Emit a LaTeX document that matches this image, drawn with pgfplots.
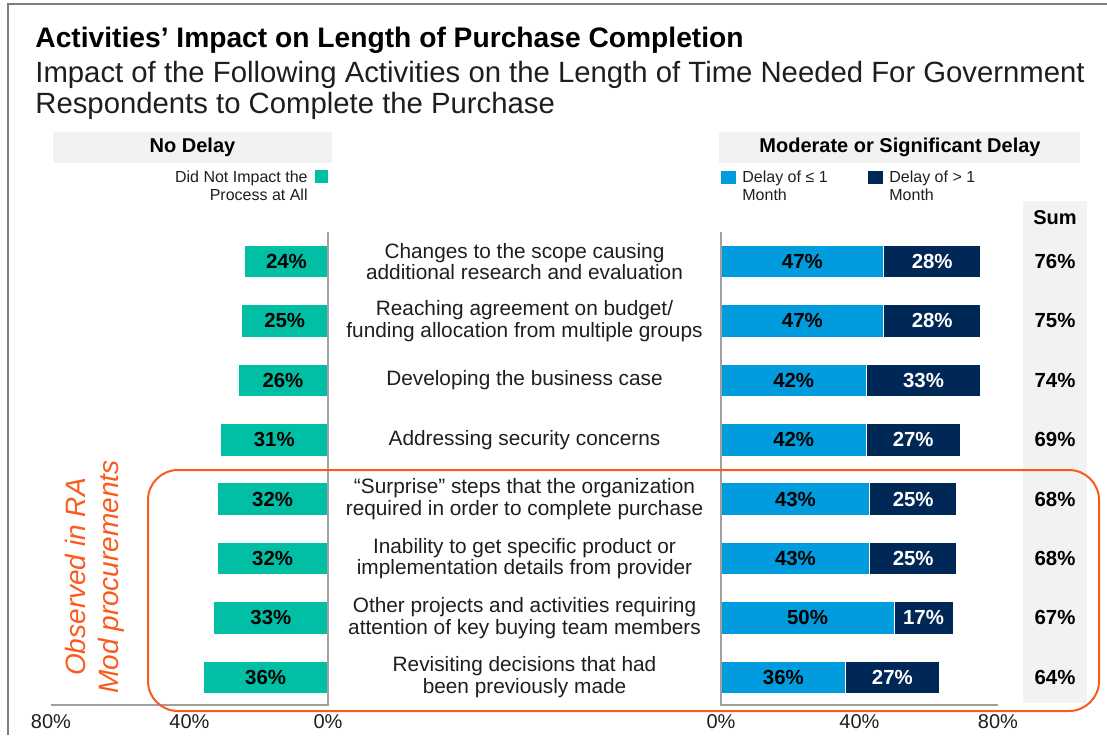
\documentclass[border=0pt]{standalone}
\usepackage{fontspec}
\setmainfont{Liberation Sans}
\usepackage{pgfplots}
\pgfplotsset{compat=1.18}
\usepackage{pgfplotstable}
\definecolor{cteal}{RGB}{0,191,165}
\definecolor{clblue}{RGB}{0,156,222}
\definecolor{cnavy}{RGB}{0,40,86}
\definecolor{cbox}{RGB}{242,242,242}
\definecolor{caxis}{RGB}{160,160,160}
\definecolor{corange}{RGB}{250,90,30}
\definecolor{cframe}{RGB}{120,128,128}
\definecolor{ctext}{RGB}{30,30,30}

\pgfplotstableread{
row nd d1 d2
0 24 47 28
1 25 47 28
2 26 42 33
3 31 42 27
4 32 43 25
5 32 43 25
6 33 50 17
7 36 36 27
}\datatable

\pgfplotsset{
  halfaxis/.style={
    scale only axis, anchor=south west,
    width=138.5pt, height=236.5pt,
    xmin=0, xmax=80, ymin=-0.497, ymax=7.466, y dir=reverse,
    axis line style={draw=none}, ytick=\empty,
    xtick={0,40,80}, major tick length=0pt,
    xticklabel={\pgfmathprintnumber{\tick}\%},
    /pgf/number format/assume math mode=true,
    xticklabel style={font=\fontsize{10}{12}\selectfont, text=ctext, yshift=-1pt},
    clip=false,
  },
  vallab/.style={
    nodes near coords={\pgfmathprintnumber{\pgfplotspointmeta}\%},
    point meta=explicit,
    every node near coord/.append style={anchor=center, font=\bfseries\fontsize{10.2}{12}\selectfont, text=#1, /pgf/number format/assume math mode=true},
  },
}

\begin{document}
\begin{tikzpicture}
\begin{scope}[x=0.5pt,y=-0.5pt]
\path[use as bounding box] (0,0) rectangle (1107,735);
% frame
\draw[cframe, line width=1pt] (8,735) -- (8,4) -- (1107,4);
% titles
\node[anchor=base west, inner sep=0pt, font=\bfseries\fontsize{14.1}{16}\selectfont] at (35,47) {Activities’ Impact on Length of Purchase Completion};
\node[anchor=base west, inner sep=0pt, font=\fontsize{14.65}{16}\selectfont, text=ctext] at (35,82) {Impact of the Following Activities on the Length of Time Needed For Government};
\node[anchor=base west, inner sep=0pt, font=\fontsize{14.65}{16}\selectfont, text=ctext] at (35,113) {Respondents to Complete the Purchase};
% header boxes
\fill[cbox] (53,132) rectangle (332,163);
\fill[cbox] (719,132) rectangle (1080,163);
\node[font=\bfseries\fontsize{10}{12}\selectfont] at (192.5,147.5) {No Delay};
\node[font=\bfseries\fontsize{10}{12}\selectfont] at (900,147.5) {Moderate or Significant Delay};
% legends
\fill[cteal] (315,170) rectangle (328,183);
\node[anchor=base east, inner sep=0pt, font=\fontsize{8}{9}\selectfont, text=ctext] at (308,182) {Did Not Impact the};
\node[anchor=base east, inner sep=0pt, font=\fontsize{8}{9}\selectfont, text=ctext] at (308,200) {Process at All};
\fill[clblue] (721,171) rectangle (736,184);
\node[anchor=base west, inner sep=0pt, font=\fontsize{8}{9}\selectfont, text=ctext] at (742,182) {Delay of ≤ 1};
\node[anchor=base west, inner sep=0pt, font=\fontsize{8}{9}\selectfont, text=ctext] at (742,200) {Month};
\fill[cnavy] (868,171) rectangle (883,184);
\node[anchor=base west, inner sep=0pt, font=\fontsize{8}{9}\selectfont, text=ctext] at (889,182) {Delay of > 1};
\node[anchor=base west, inner sep=0pt, font=\fontsize{8}{9}\selectfont, text=ctext] at (889,200) {Month};
% sum column
\fill[cbox] (1023,201) rectangle (1087,703);
\node[font=\bfseries\fontsize{10}{12}\selectfont] at (1055,218) {Sum};
\foreach \v [count=\i from 0] in {76,75,74,69,68,68,67,64}
  \node[font=\bfseries\fontsize{10.2}{12}\selectfont] at (1055,261.5+59.4*\i) {\v\%};
% category labels
\begin{scope}[every node/.style={align=center, font=\fontsize{10.4}{10.8}\selectfont, text=ctext}]
\node at (524.5,261.5+59.4*0) {Changes to the scope causing\\additional research and evaluation};
\node at (524.5,261.5+59.4*1) {Reaching agreement on budget/\\funding allocation from multiple groups};
\node at (524.5,261.5+59.4*2) {Developing the business case};
\node at (524.5,261.5+59.4*3) {Addressing security concerns};
\node at (524.5,261.5+59.4*4) {“Surprise” steps that the organization\\required in order to complete purchase};
\node at (524.5,261.5+59.4*5) {Inability to get specific product or\\implementation details from provider};
\node at (524.5,261.5+59.4*6) {Other projects and activities requiring\\attention of key buying team members};
\node at (524.5,261.5+59.4*7) {Revisiting decisions that had\\been previously made};
\end{scope}
\end{scope}

% left axis
\begin{axis}[halfaxis, at={(25.5pt,-352.5pt)}, x dir=reverse]
\addplot[xbar, bar width=16.3pt, bar shift=0pt, fill=cteal, draw=white, line width=0.4pt,
  vallab=black, visualization depends on={rawx \as \rawx},
  every node near coord/.append style={xshift=\rawx*0.865625pt}]
  table[x=nd, y=row, meta=nd] {\datatable};
\end{axis}

% right axis
\begin{axis}[halfaxis, at={(360.5pt,-352.5pt)}, xbar stacked, bar width=16.3pt]
\addplot[fill=clblue, draw=white, line width=0.4pt, vallab=black]
  table[x=d1, y=row, meta=d1] {\datatable};
\addplot[fill=cnavy, draw=white, line width=0.4pt, vallab=white]
  table[x=d2, y=row, meta=d2] {\datatable};
\end{axis}

\begin{scope}[x=0.5pt,y=-0.5pt]
% axis lines
\draw[caxis, line width=1pt] (51,705) -- (328,705) -- (328,232);
\draw[caxis, line width=1pt] (721,232) -- (721,705) -- (998,705);
% orange annotation
\draw[corange, line width=1pt, rounded corners=15pt] (148,470) rectangle (1099,711);
\node[rotate=90, align=center, text=corange, font=\itshape\fontsize{14}{16.5}\selectfont] at (95,577) {Observed in RA\\Mod procurements};
\end{scope}
\end{tikzpicture}
\end{document}
